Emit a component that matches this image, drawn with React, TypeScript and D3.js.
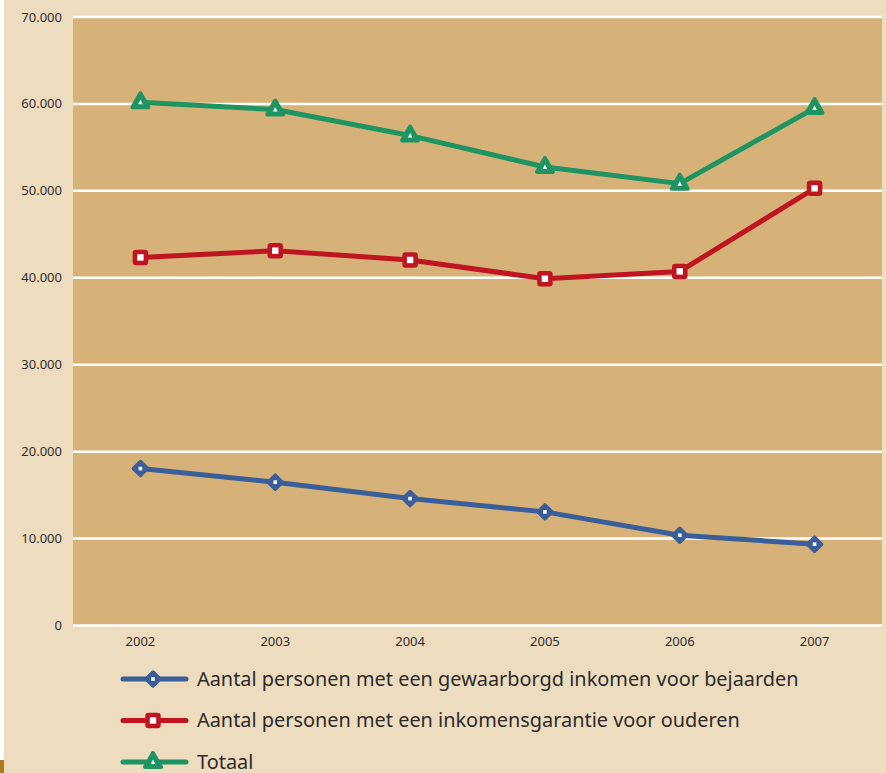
import { useMemo } from "react";
import * as d3 from "d3";

const years = ["2002", "2003", "2004", "2005", "2006", "2007"];
const bejaarden = [18050, 16490, 14600, 13070, 10380, 9350];
const ouderen = [42340, 43120, 42050, 39890, 40730, 50290];
const totaal = [60190, 59350, 56360, 52750, 50830, 59520];
const yTicks = [0, 10000, 20000, 30000, 40000, 50000, 60000, 70000];

const labels = [
  "Aantal personen met een gewaarborgd inkomen voor bejaarden",
  "Aantal personen met een inkomensgarantie voor ouderen",
  "Totaal",
];

const WIDTH = 886;
const HEIGHT = 773;
const PLOT = { left: 73, right: 882, top: 17, bottom: 625.5 };

const BG = "#eedcbf";
const PLOT_BG = "#d6b279";
const BLUE = "#3a5e99";
const RED = "#be1520";
const GREEN = "#1d9461";
const FONT = "'Noto Sans', sans-serif";

const fmt = (v: number) => (v === 0 ? "0" : d3.format(",")(v).replace(/,/g, "."));

type Kind = "diamond" | "square" | "triangle";

const Marker = ({ x, y, kind, color }: { x: number; y: number; kind: Kind; color: string }) => {
  if (kind === "diamond") {
    return (
      <g transform={`translate(${x},${y})`}>
        <path d="M0,-7 L7,0 L0,7 L-7,0 Z" fill={color} stroke={color} strokeWidth={3.5} strokeLinejoin="round" />
        <rect x={-1.8} y={-1.8} width={3.6} height={3.6} fill="#fff" />
      </g>
    );
  }
  if (kind === "square") {
    return (
      <g transform={`translate(${x},${y})`}>
        <rect x={-6} y={-6} width={12} height={12} rx={1.5} fill={color} stroke={color} strokeWidth={3.5} strokeLinejoin="round" />
        <rect x={-3.2} y={-3.2} width={6.4} height={6.4} fill="#fff" />
      </g>
    );
  }
  return (
    <g transform={`translate(${x},${y})`}>
      <path d="M0,-9 L8,5 L-8,5 Z" fill={color} stroke={color} strokeWidth={4} strokeLinejoin="round" />
      <path d="M0,-2.5 L2.3,2 L-2.3,2 Z" fill="#fff" />
    </g>
  );
};

export default function App() {
  const x = useMemo(
    () => d3.scaleBand<string>().domain(years).range([PLOT.left, PLOT.right]),
    []
  );
  const y = useMemo(
    () => d3.scaleLinear().domain([0, 70000]).range([PLOT.bottom, PLOT.top]),
    []
  );

  const series = [
    { values: bejaarden, color: BLUE, kind: "diamond" as Kind },
    { values: ouderen, color: RED, kind: "square" as Kind },
    { values: totaal, color: GREEN, kind: "triangle" as Kind },
  ];

  const line = d3
    .line<number>()
    .x((_, i) => (x(years[i]) ?? 0) + x.bandwidth() / 2)
    .y((d) => y(d));

  const legendY = [679, 720.5, 762];

  return (
    <svg
      width={WIDTH}
      height={HEIGHT}
      style={{ position: "fixed", left: 0, top: 0, display: "block" }}
    >
      <rect width={WIDTH} height={HEIGHT} fill={BG} />
      <rect x={0} y={0} width={4} height={760} fill="#ffffff" />
      <rect x={0} y={760} width={4} height={13} fill="#b07a1c" />
      <rect
        x={PLOT.left}
        y={PLOT.top}
        width={PLOT.right - PLOT.left}
        height={PLOT.bottom - PLOT.top}
        fill={PLOT_BG}
      />
      {yTicks.map((t) => (
        <g key={t}>
          <line x1={PLOT.left} x2={PLOT.right} y1={y(t)} y2={y(t)} stroke="#fff" strokeWidth={2.5} />
          <text
            x={62}
            y={y(t)}
            dy="0.35em"
            textAnchor="end"
            fontFamily={FONT}
            fontSize={13}
            fill="#2e2e2e"
          >
            {fmt(t)}
          </text>
        </g>
      ))}
      {years.map((yr) => (
        <text
          key={yr}
          x={(x(yr) ?? 0) + x.bandwidth() / 2}
          y={641}
          dy="0.35em"
          textAnchor="middle"
          fontFamily={FONT}
          fontSize={13}
          fill="#2e2e2e"
        >
          {yr}
        </text>
      ))}
      {series.map((s) => (
        <g key={s.kind}>
          <path d={line(s.values) ?? ""} fill="none" stroke={s.color} strokeWidth={5} strokeLinejoin="round" />
          {s.values.map((v, i) => (
            <Marker
              key={i}
              x={(x(years[i]) ?? 0) + x.bandwidth() / 2}
              y={y(v)}
              kind={s.kind}
              color={s.color}
            />
          ))}
        </g>
      ))}
      {series.map((s, i) => (
        <g key={`lg-${s.kind}`}>
          <line
            x1={123}
            x2={186}
            y1={legendY[i]}
            y2={legendY[i]}
            stroke={s.color}
            strokeWidth={5}
            strokeLinecap="round"
          />
          <Marker x={153} y={legendY[i]} kind={s.kind} color={s.color} />
          <text
            x={197}
            y={legendY[i]}
            dy="0.35em"
            fontFamily={FONT}
            fontSize={19.9}
            fill="#2b2b2b"
          >
            {labels[i]}
          </text>
        </g>
      ))}
    </svg>
  );
}
